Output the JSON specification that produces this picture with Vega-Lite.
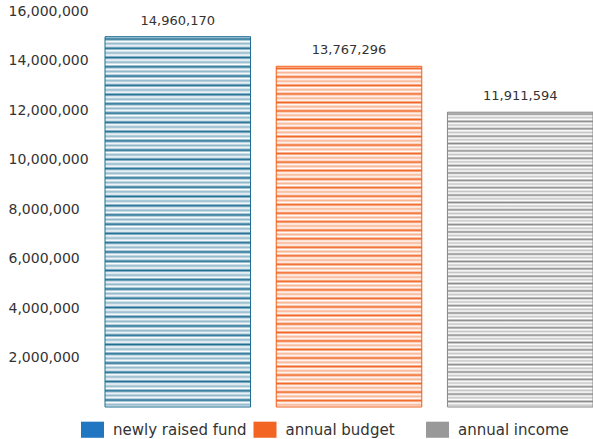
{
  "$schema": "https://vega.github.io/schema/vega-lite/v6.json",
  "width": 488,
  "height": 396,
  "autosize": {"type": "none"},
  "padding": {"left": 105, "top": 11, "right": 0, "bottom": 32},
  "background": "white",
  "config": {"view": {"stroke": null}, "font": "DejaVu Sans"},
  "data": {"values": [
    {"category": "newly raised fund", "value": 14960170},
    {"category": "annual budget", "value": 13767296},
    {"category": "annual income", "value": 11911594}
  ]},
  "encoding": {
    "x": {"field": "category", "type": "nominal", "sort": null, "axis": null, "scale": {"paddingInner": 0.15, "paddingOuter": 0}},
    "y": {"field": "value", "type": "quantitative", "scale": {"domain": [0, 16000000], "nice": false},
      "axis": {"values": [2000000, 4000000, 6000000, 8000000, 10000000, 12000000, 14000000, 16000000], "labelExpr": "format(datum.value, ',')", "domain": false, "ticks": false, "tickSize": 0, "grid": false, "labelAlign": "left", "labelBaseline": "middle", "labelPadding": 97, "labelFontSize": 14, "labelColor": "#333333", "title": null}}
  },
  "layer": [
    {
      "mark": {"type": "bar"},
      "encoding": {
        "fill": {"field": "category", "type": "nominal",
          "scale": {"domain": ["newly raised fund", "annual budget", "annual income"], "range": ["#2176c1", "#f26522", "#999999"]},
          "legend": {"orient": "none", "legendX": -24, "legendY": 407, "direction": "horizontal", "title": null,
            "symbolType": "M-1,-0.7H1V0.7H-1Z", "symbolSize": 529, "symbolStrokeWidth": 0, "symbolOpacity": 1,
            "labelFontSize": 15, "labelColor": "#333333", "labelOffset": 9, "columnPadding": 6.5, "gridAlign": "all", "padding": 0}
        }
      }
    },
    {
      "mark": {"type": "bar"},
      "encoding": {
        "color": {"field": "category", "type": "nominal", "legend": null,
          "scale": {"domain": ["newly raised fund", "annual budget", "annual income"], "range": ["#1f6e94", "#f26522", "#8a8a8a"]}}
      }
    },
    {
      "mark": {"type": "bar", "strokeWidth": 1,
        "fill": {"gradient": "linear", "x1": 0, "y1": 0, "x2": 0, "y2": 1, "stops": [
          {"offset": 0, "color": "white"}, {"offset": 0.00625, "color": "rgba(255,255,255,0)"}, {"offset": 0.0125, "color": "white"}, {"offset": 0.01875, "color": "rgba(255,255,255,0.5)"},
          {"offset": 0.025, "color": "white"}, {"offset": 0.03125, "color": "rgba(255,255,255,0)"}, {"offset": 0.0375, "color": "white"}, {"offset": 0.04375, "color": "rgba(255,255,255,0.5)"},
          {"offset": 0.05, "color": "white"}, {"offset": 0.05625, "color": "rgba(255,255,255,0)"}, {"offset": 0.0625, "color": "white"}, {"offset": 0.06875, "color": "rgba(255,255,255,0.5)"},
          {"offset": 0.075, "color": "white"}, {"offset": 0.08125, "color": "rgba(255,255,255,0)"}, {"offset": 0.0875, "color": "white"}, {"offset": 0.09375, "color": "rgba(255,255,255,0.5)"},
          {"offset": 0.1, "color": "white"}, {"offset": 0.10625, "color": "rgba(255,255,255,0)"}, {"offset": 0.1125, "color": "white"}, {"offset": 0.11875, "color": "rgba(255,255,255,0.5)"},
          {"offset": 0.125, "color": "white"}, {"offset": 0.13125, "color": "rgba(255,255,255,0)"}, {"offset": 0.1375, "color": "white"}, {"offset": 0.14375, "color": "rgba(255,255,255,0.5)"},
          {"offset": 0.15, "color": "white"}, {"offset": 0.15625, "color": "rgba(255,255,255,0)"}, {"offset": 0.1625, "color": "white"}, {"offset": 0.16875, "color": "rgba(255,255,255,0.5)"},
          {"offset": 0.175, "color": "white"}, {"offset": 0.18125, "color": "rgba(255,255,255,0)"}, {"offset": 0.1875, "color": "white"}, {"offset": 0.19375, "color": "rgba(255,255,255,0.5)"},
          {"offset": 0.2, "color": "white"}, {"offset": 0.20625, "color": "rgba(255,255,255,0)"}, {"offset": 0.2125, "color": "white"}, {"offset": 0.21875, "color": "rgba(255,255,255,0.5)"},
          {"offset": 0.225, "color": "white"}, {"offset": 0.23125, "color": "rgba(255,255,255,0)"}, {"offset": 0.2375, "color": "white"}, {"offset": 0.24375, "color": "rgba(255,255,255,0.5)"},
          {"offset": 0.25, "color": "white"}, {"offset": 0.25625, "color": "rgba(255,255,255,0)"}, {"offset": 0.2625, "color": "white"}, {"offset": 0.26875, "color": "rgba(255,255,255,0.5)"},
          {"offset": 0.275, "color": "white"}, {"offset": 0.28125, "color": "rgba(255,255,255,0)"}, {"offset": 0.2875, "color": "white"}, {"offset": 0.29375, "color": "rgba(255,255,255,0.5)"},
          {"offset": 0.3, "color": "white"}, {"offset": 0.30625, "color": "rgba(255,255,255,0)"}, {"offset": 0.3125, "color": "white"}, {"offset": 0.31875, "color": "rgba(255,255,255,0.5)"},
          {"offset": 0.325, "color": "white"}, {"offset": 0.33125, "color": "rgba(255,255,255,0)"}, {"offset": 0.3375, "color": "white"}, {"offset": 0.34375, "color": "rgba(255,255,255,0.5)"},
          {"offset": 0.35, "color": "white"}, {"offset": 0.35625, "color": "rgba(255,255,255,0)"}, {"offset": 0.3625, "color": "white"}, {"offset": 0.36875, "color": "rgba(255,255,255,0.5)"},
          {"offset": 0.375, "color": "white"}, {"offset": 0.38125, "color": "rgba(255,255,255,0)"}, {"offset": 0.3875, "color": "white"}, {"offset": 0.39375, "color": "rgba(255,255,255,0.5)"},
          {"offset": 0.4, "color": "white"}, {"offset": 0.40625, "color": "rgba(255,255,255,0)"}, {"offset": 0.4125, "color": "white"}, {"offset": 0.41875, "color": "rgba(255,255,255,0.5)"},
          {"offset": 0.425, "color": "white"}, {"offset": 0.43125, "color": "rgba(255,255,255,0)"}, {"offset": 0.4375, "color": "white"}, {"offset": 0.44375, "color": "rgba(255,255,255,0.5)"},
          {"offset": 0.45, "color": "white"}, {"offset": 0.45625, "color": "rgba(255,255,255,0)"}, {"offset": 0.4625, "color": "white"}, {"offset": 0.46875, "color": "rgba(255,255,255,0.5)"},
          {"offset": 0.475, "color": "white"}, {"offset": 0.48125, "color": "rgba(255,255,255,0)"}, {"offset": 0.4875, "color": "white"}, {"offset": 0.49375, "color": "rgba(255,255,255,0.5)"},
          {"offset": 0.5, "color": "white"}, {"offset": 0.50625, "color": "rgba(255,255,255,0)"}, {"offset": 0.5125, "color": "white"}, {"offset": 0.51875, "color": "rgba(255,255,255,0.5)"},
          {"offset": 0.525, "color": "white"}, {"offset": 0.53125, "color": "rgba(255,255,255,0)"}, {"offset": 0.5375, "color": "white"}, {"offset": 0.54375, "color": "rgba(255,255,255,0.5)"},
          {"offset": 0.55, "color": "white"}, {"offset": 0.55625, "color": "rgba(255,255,255,0)"}, {"offset": 0.5625, "color": "white"}, {"offset": 0.56875, "color": "rgba(255,255,255,0.5)"},
          {"offset": 0.575, "color": "white"}, {"offset": 0.58125, "color": "rgba(255,255,255,0)"}, {"offset": 0.5875, "color": "white"}, {"offset": 0.59375, "color": "rgba(255,255,255,0.5)"},
          {"offset": 0.6, "color": "white"}, {"offset": 0.60625, "color": "rgba(255,255,255,0)"}, {"offset": 0.6125, "color": "white"}, {"offset": 0.61875, "color": "rgba(255,255,255,0.5)"},
          {"offset": 0.625, "color": "white"}, {"offset": 0.63125, "color": "rgba(255,255,255,0)"}, {"offset": 0.6375, "color": "white"}, {"offset": 0.64375, "color": "rgba(255,255,255,0.5)"},
          {"offset": 0.65, "color": "white"}, {"offset": 0.65625, "color": "rgba(255,255,255,0)"}, {"offset": 0.6625, "color": "white"}, {"offset": 0.66875, "color": "rgba(255,255,255,0.5)"},
          {"offset": 0.675, "color": "white"}, {"offset": 0.68125, "color": "rgba(255,255,255,0)"}, {"offset": 0.6875, "color": "white"}, {"offset": 0.69375, "color": "rgba(255,255,255,0.5)"},
          {"offset": 0.7, "color": "white"}, {"offset": 0.70625, "color": "rgba(255,255,255,0)"}, {"offset": 0.7125, "color": "white"}, {"offset": 0.71875, "color": "rgba(255,255,255,0.5)"},
          {"offset": 0.725, "color": "white"}, {"offset": 0.73125, "color": "rgba(255,255,255,0)"}, {"offset": 0.7375, "color": "white"}, {"offset": 0.74375, "color": "rgba(255,255,255,0.5)"},
          {"offset": 0.75, "color": "white"}, {"offset": 0.75625, "color": "rgba(255,255,255,0)"}, {"offset": 0.7625, "color": "white"}, {"offset": 0.76875, "color": "rgba(255,255,255,0.5)"},
          {"offset": 0.775, "color": "white"}, {"offset": 0.78125, "color": "rgba(255,255,255,0)"}, {"offset": 0.7875, "color": "white"}, {"offset": 0.79375, "color": "rgba(255,255,255,0.5)"},
          {"offset": 0.8, "color": "white"}, {"offset": 0.80625, "color": "rgba(255,255,255,0)"}, {"offset": 0.8125, "color": "white"}, {"offset": 0.81875, "color": "rgba(255,255,255,0.5)"},
          {"offset": 0.825, "color": "white"}, {"offset": 0.83125, "color": "rgba(255,255,255,0)"}, {"offset": 0.8375, "color": "white"}, {"offset": 0.84375, "color": "rgba(255,255,255,0.5)"},
          {"offset": 0.85, "color": "white"}, {"offset": 0.85625, "color": "rgba(255,255,255,0)"}, {"offset": 0.8625, "color": "white"}, {"offset": 0.86875, "color": "rgba(255,255,255,0.5)"},
          {"offset": 0.875, "color": "white"}, {"offset": 0.88125, "color": "rgba(255,255,255,0)"}, {"offset": 0.8875, "color": "white"}, {"offset": 0.89375, "color": "rgba(255,255,255,0.5)"},
          {"offset": 0.9, "color": "white"}, {"offset": 0.90625, "color": "rgba(255,255,255,0)"}, {"offset": 0.9125, "color": "white"}, {"offset": 0.91875, "color": "rgba(255,255,255,0.5)"},
          {"offset": 0.925, "color": "white"}, {"offset": 0.93125, "color": "rgba(255,255,255,0)"}, {"offset": 0.9375, "color": "white"}, {"offset": 0.94375, "color": "rgba(255,255,255,0.5)"},
          {"offset": 0.95, "color": "white"}, {"offset": 0.95625, "color": "rgba(255,255,255,0)"}, {"offset": 0.9625, "color": "white"}, {"offset": 0.96875, "color": "rgba(255,255,255,0.5)"},
          {"offset": 0.975, "color": "white"}, {"offset": 0.98125, "color": "rgba(255,255,255,0)"}, {"offset": 0.9875, "color": "white"}, {"offset": 0.99375, "color": "rgba(255,255,255,0.5)"},
          {"offset": 1, "color": "white"}
        ]}
      },
      "encoding": {
        "stroke": {"field": "category", "type": "nominal", "legend": null,
          "scale": {"domain": ["newly raised fund", "annual budget", "annual income"], "range": ["#1f6e94", "#f26522", "#8a8a8a"]}}
      }
    },
    {
      "mark": {"type": "text", "baseline": "bottom", "dy": -9, "fontSize": 13, "fill": "#333333"},
      "encoding": {"text": {"field": "value", "type": "quantitative", "format": ","}}
    }
  ]
}
